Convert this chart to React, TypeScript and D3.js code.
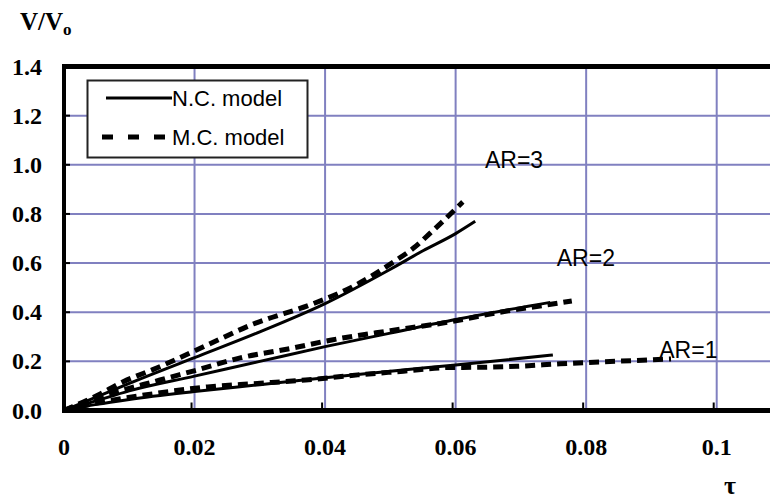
import React from "react";
import * as d3 from "d3";

const xTicks = [0, 0.02, 0.04, 0.06, 0.08, 0.1];
const xTickLabels = ["0", "0.02", "0.04", "0.06", "0.08", "0.1"];
const xGrid = [0.02, 0.04, 0.06, 0.08, 0.1, 0.12];
const yTicks = [0, 0.2, 0.4, 0.6, 0.8, 1.0, 1.2, 1.4];
const yTickLabels = ["0.0", "0.2", "0.4", "0.6", "0.8", "1.0", "1.2", "1.4"];
const yGrid = [0.2, 0.4, 0.6, 0.8, 1.0, 1.2];

// N.C. model (solid)
const ar3NC_t = [0, 0.005, 0.01, 0.02, 0.03, 0.04, 0.05, 0.055, 0.06, 0.063];
const ar3NC_v = [0, 0.055, 0.11, 0.215, 0.32, 0.435, 0.575, 0.65, 0.72, 0.77];
const ar2NC_t = [0, 0.005, 0.01, 0.02, 0.03, 0.04, 0.05, 0.06, 0.0745];
const ar2NC_v = [0, 0.04, 0.08, 0.14, 0.2, 0.26, 0.315, 0.37, 0.44];
const ar1NC_t = [0, 0.005, 0.01, 0.02, 0.03, 0.04, 0.05, 0.06, 0.0749];
const ar1NC_v = [0, 0.025, 0.045, 0.077, 0.105, 0.133, 0.16, 0.185, 0.226];

// M.C. model (dashed)
const ar3MC_t = [0, 0.005, 0.009, 0.0142, 0.0219, 0.029, 0.0377, 0.0413, 0.0443, 0.0505, 0.0535, 0.0566, 0.0611];
const ar3MC_v = [0, 0.06, 0.116, 0.173, 0.266, 0.352, 0.43, 0.468, 0.505, 0.605, 0.66, 0.734, 0.849];
const ar2MC_t = [0, 0.005, 0.0147, 0.0204, 0.027, 0.035, 0.041, 0.05, 0.059, 0.0668, 0.074, 0.0778];
const ar2MC_v = [0, 0.05, 0.124, 0.165, 0.214, 0.254, 0.287, 0.325, 0.36, 0.4, 0.43, 0.446];
const ar1MC_t = [0, 0.005, 0.0142, 0.022, 0.0296, 0.037, 0.045, 0.052, 0.059, 0.064, 0.0694, 0.076, 0.0826, 0.0898, 0.093];
const ar1MC_v = [0, 0.03, 0.07, 0.096, 0.11, 0.124, 0.145, 0.16, 0.175, 0.176, 0.18, 0.19, 0.198, 0.206, 0.21];

const curveLabels = ["AR=3", "AR=2", "AR=1"];
const curveLabelT = [0.0645, 0.0755, 0.0912];
const curveLabelV = [0.985, 0.59, 0.215];

const legendLabels = ["N.C. model", "M.C. model"];

const W = 770;
const H = 502;

export default function App() {
  const x = d3.scaleLinear().domain([0, 0.1]).range([64, 716.7]);
  const y = d3.scaleLinear().domain([0, 1.4]).range([410.5, 66.5]);
  const line = d3
    .line<[number, number]>()
    .x((d) => x(d[0]))
    .y((d) => y(d[1]))
    .curve(d3.curveMonotoneX);
  const zip = (a: number[], b: number[]) => a.map((t, i) => [t, b[i]] as [number, number]);

  const ncSeries = [zip(ar3NC_t, ar3NC_v), zip(ar2NC_t, ar2NC_v), zip(ar1NC_t, ar1NC_v)];
  const mcSeries = [zip(ar3MC_t, ar3MC_v), zip(ar2MC_t, ar2MC_v), zip(ar1MC_t, ar1MC_v)];
  const gridColor = "#8080c0";
  const serif = "'Liberation Serif', 'Times New Roman', serif";
  const sans = "'Liberation Sans', Arial, sans-serif";

  return (
    <svg
      width={W}
      height={H}
      viewBox={`0 0 ${W} ${H}`}
      style={{ position: "absolute", left: 0, top: 0, background: "#fff" }}
    >
      <rect x={0} y={0} width={W} height={H} fill="#fff" />
      {/* grid */}
      {xGrid.map((t) => (
        <line key={"gx" + t} x1={x(t)} x2={x(t)} y1={y(1.4)} y2={y(0)} stroke={gridColor} strokeWidth={2} />
      ))}
      {yGrid.map((v) => (
        <line key={"gy" + v} x1={x(0)} x2={W} y1={y(v)} y2={y(v)} stroke={gridColor} strokeWidth={2} />
      ))}
      {/* ticks */}
      {yGrid.map((v) => (
        <line key={"ty" + v} x1={x(0)} x2={x(0) + 6} y1={y(v)} y2={y(v)} stroke="#000" strokeWidth={2} />
      ))}
      {xTicks.slice(1).map((t) => (
        <line key={"tx" + t} x1={x(t) - 3} x2={x(t) - 3} y1={y(0)} y2={y(0) - 8} stroke="#000" strokeWidth={2} />
      ))}
      {/* curves */}
      {ncSeries.map((s, i) => (
        <path key={"nc" + i} d={line(s) || ""} fill="none" stroke="#000" strokeWidth={3} />
      ))}
      {mcSeries.map((s, i) => (
        <path
          key={"mc" + i}
          d={line(s) || ""}
          fill="none"
          stroke="#000"
          strokeWidth={5}
          strokeDasharray="10,6"
        />
      ))}
      {/* frame */}
      <line x1={x(0) - 2} x2={W} y1={y(1.4)} y2={y(1.4)} stroke="#000" strokeWidth={5} />
      <line x1={x(0) - 2} x2={W} y1={y(0)} y2={y(0)} stroke="#000" strokeWidth={5} />
      <line x1={x(0)} x2={x(0)} y1={y(1.4) - 2.5} y2={y(0) + 2.5} stroke="#000" strokeWidth={4} />
      {/* tick labels */}
      {yTicks.map((v, i) => (
        <text
          key={"ly" + v}
          x={42}
          y={y(v) + 8}
          textAnchor="end"
          fontFamily={serif}
          fontWeight="bold"
          fontSize={24}
          fill="#000"
        >
          {yTickLabels[i]}
        </text>
      ))}
      {xTicks.map((t, i) => (
        <text
          key={"lx" + t}
          x={x(t)}
          y={455}
          textAnchor="middle"
          fontFamily={serif}
          fontWeight="bold"
          fontSize={24}
          fill="#000"
        >
          {xTickLabels[i]}
        </text>
      ))}
      {/* axis titles */}
      <text x={20} y={30} fontFamily={serif} fontWeight="bold" fontSize={25} fill="#000">
        V/V
        <tspan fontSize={17} dy={5}>o</tspan>
      </text>
      <text x={724} y={494} fontFamily={serif} fontWeight="bold" fontSize={26} fill="#000">
        τ
      </text>
      {/* legend */}
      <rect x={87.5} y={80.5} width={220} height={77} fill="#fff" stroke="#222" strokeWidth={2} />
      <line x1={106} x2={172} y1={98} y2={98} stroke="#000" strokeWidth={3} />
      <line x1={102} x2={168} y1={137} y2={137} stroke="#000" strokeWidth={5} strokeDasharray="11,15" />
      <text x={172} y={106} fontFamily={sans} fontSize={22} fill="#000">
        {legendLabels[0]}
      </text>
      <text x={172} y={145} fontFamily={sans} fontSize={22} fill="#000">
        {legendLabels[1]}
      </text>
      {/* curve labels */}
      {curveLabels.map((l, i) => (
        <text
          key={l}
          x={x(curveLabelT[i])}
          y={y(curveLabelV[i])}
          fontFamily={sans}
          fontSize={23}
          fill="#000"
        >
          {l}
        </text>
      ))}
    </svg>
  );
}
